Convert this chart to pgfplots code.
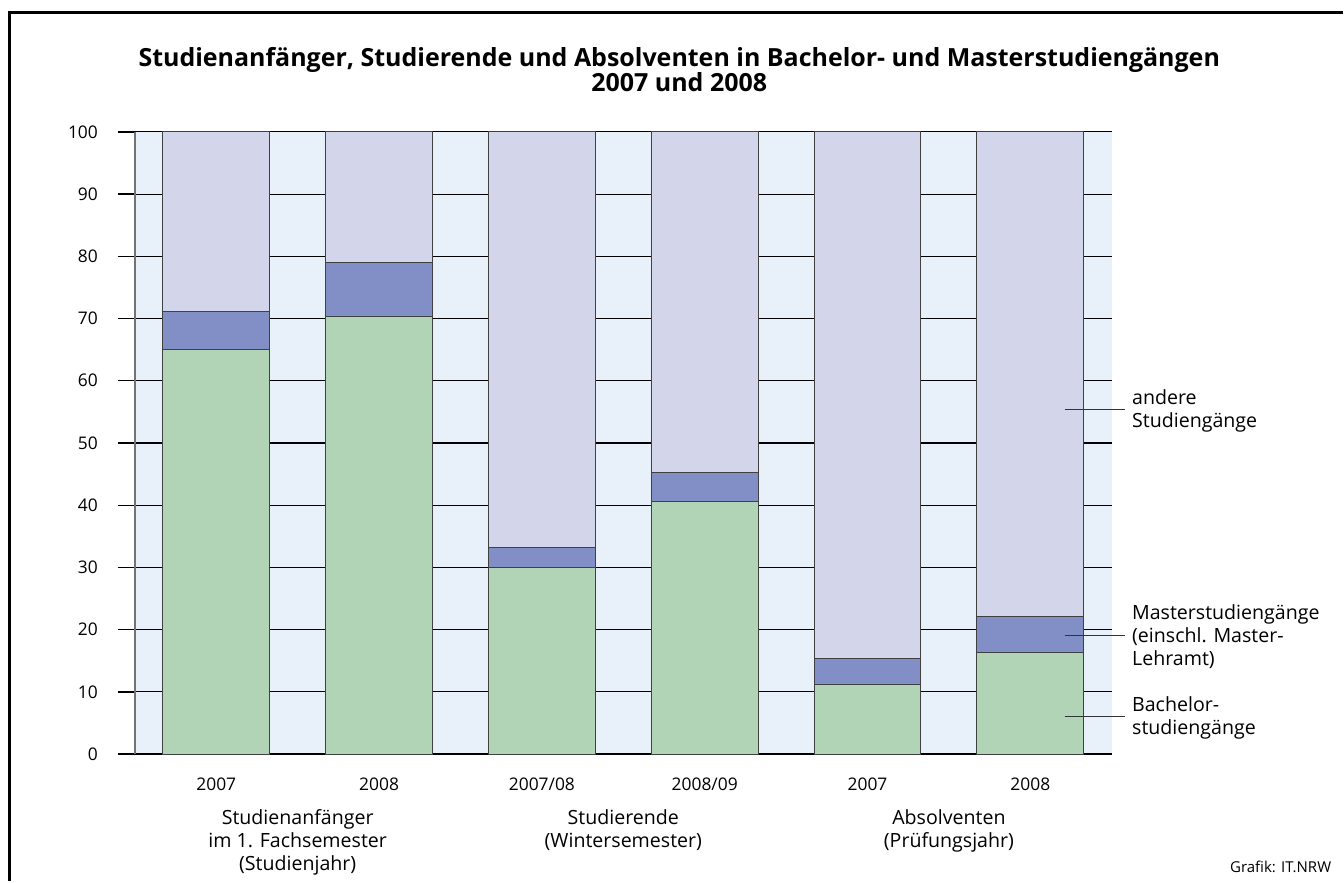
\documentclass[border=0pt]{standalone}
\usepackage{pgfplots}
\pgfplotsset{compat=1.18}
\usepackage{fontspec}
\setmainfont{Open Sans}

\definecolor{bgblue}{RGB}{232,240,250}
\definecolor{other}{RGB}{211,213,235}
\definecolor{master}{RGB}{130,143,198}
\definecolor{bachelor}{RGB}{176,212,181}

\tikzset{
  titlefont/.style={font=\bfseries\fontsize{12.5}{13}\selectfont},
  grouplabel/.style={anchor=north, align=center, inner sep=0pt, font=\fontsize{9.8}{11.5}\selectfont},
  serieslabel/.style={anchor=west, align=left, inner sep=0pt, font=\fontsize{9.8}{11.5}\selectfont},
  leader/.style={black!80, line width=0.5pt},
}

\begin{document}
\begin{tikzpicture}
% page and frame
\fill[white] (0,0) rectangle (672pt,441pt);
\draw[line width=1.5pt] (5pt,0) -- (5pt,434.5pt) -- (672pt,434.5pt);

\node[titlefont] at (340pt,411pt)
  {Studienanfänger, Studierende und Absolventen in Bachelor- und Masterstudiengängen};
\node[titlefont] at (340pt,400pt) {2007 und 2008};

\begin{axis}[
    at={(67.5pt,63.5pt)}, anchor=south west,
    scale only axis, width=489pt, height=311.5pt,
    ybar stacked, bar width=0.656,
    xmin=-0.5, xmax=5.5, ymin=0, ymax=100,
    xtick={0,...,5},
    xticklabels={2007,2008,2007/08,2008/09,2007,2008},
    ytick={0,10,...,100},
    ymajorgrids,
    grid style={black, line width=0.55pt},
    axis background/.style={fill=bgblue},
    axis x line*=bottom, axis y line*=left,
    x axis line style={black, line width=0.7pt, -},
    y axis line style={black!55, line width=0.8pt, -},
    xtick style={draw=none},
    ytick style={black, line width=0.7pt},
    major tick length=8.5pt, tick align=outside,
    ticklabel style={font=\fontsize{8.7}{10}\selectfont},
    /pgf/number format/assume math mode=true,
    xticklabel style={yshift=0pt},
    yticklabel style={xshift=-6.5pt},
    clip=false,
]
\addplot[fill=bachelor, draw=black!75, line width=0.5pt] coordinates
  {(0,65.0) (1,70.3) (2,30.0) (3,40.6) (4,11.2) (5,16.4)};
\addplot[fill=master, draw=black!75, line width=0.5pt] coordinates
  {(0,6.1) (1,8.7) (2,3.2) (3,4.7) (4,4.2) (5,5.8)};
\addplot[fill=other, draw=black!75, line width=0.5pt] coordinates
  {(0,28.9) (1,21.0) (2,66.8) (3,54.7) (4,84.6) (5,77.8)};

% group labels under the year ticks
\node[grouplabel] at (axis cs:0.5,0) [yshift=-27.5pt] {Studienanfänger\\im 1. Fachsemester\\(Studienjahr)};
\node[grouplabel] at (axis cs:2.5,0) [yshift=-27.5pt] {Studierende\\(Wintersemester)};
\node[grouplabel] at (axis cs:4.5,0) [yshift=-27.5pt] {Absolventen\\(Prüfungsjahr)};

% labels for the series at the right
\coordinate (a0) at (axis cs:5.21,55.4);  \coordinate (a1) at (axis cs:5.58,55.4);
\coordinate (m0) at (axis cs:5.21,19.1);  \coordinate (m1) at (axis cs:5.58,19.1);
\coordinate (b0) at (axis cs:5.21,6.1);   \coordinate (b1) at (axis cs:5.58,6.1);
\node[serieslabel] at (axis cs:5.623,55.2) {andere\\Studiengänge};
\node[serieslabel] at (axis cs:5.623,18.9) {Masterstudiengänge\\(einschl. Master-\\Lehramt)};
\node[serieslabel] at (axis cs:5.623,5.8) {Bachelor-\\studiengänge};
\end{axis}

% leader lines on top of the bars
\draw[leader] (a0) -- (a1);
\draw[leader] (m0) -- (m1);
\draw[leader] (b0) -- (b1);

\node[anchor=east, inner sep=0pt, font=\fontsize{7.5}{8}\selectfont] at (666.5pt,7pt) {Grafik: IT.NRW};
\end{tikzpicture}
\end{document}
